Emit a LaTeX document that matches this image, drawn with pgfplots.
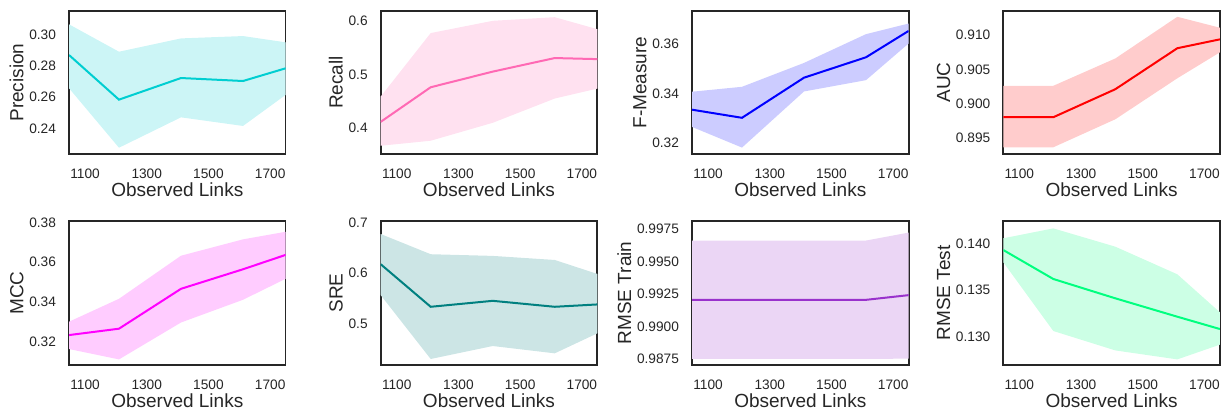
\documentclass[border=0pt]{standalone}
\usepackage{fontspec}
\setmainfont{Liberation Sans}
\usepackage{pgfplots}
\usepackage{pgfplotstable}
\pgfplotsset{compat=1.18}
\usepgfplotslibrary{fillbetween}

\definecolor{txt}{HTML}{262626}
\definecolor{cprec}{HTML}{00CED1}
\definecolor{crec}{HTML}{FF69B4}
\definecolor{cfm}{HTML}{0000FF}
\definecolor{cauc}{HTML}{FF0000}
\definecolor{cmcc}{HTML}{FF00FF}
\definecolor{csre}{HTML}{008080}
\definecolor{ctr}{HTML}{9932CC}
\definecolor{cte}{HTML}{00FF7F}

% x = observed links, m = mean, lo/hi = band
\pgfplotstableread{
x m lo hi
1048 0.2868 0.2656 0.3064
1210 0.2583 0.2276 0.2889
1411 0.2721 0.2470 0.2974
1612 0.2702 0.2415 0.2989
1750 0.2783 0.2613 0.2949
}\tPrec
\pgfplotstableread{
x m lo hi
1048 0.4117 0.3670 0.4590
1210 0.4764 0.3764 0.5777
1411 0.5056 0.4099 0.6006
1612 0.5310 0.4553 0.6074
1750 0.5290 0.4739 0.5850
}\tRec
\pgfplotstableread{
x m lo hi
1048 0.3334 0.3264 0.3407
1210 0.3301 0.3180 0.3427
1411 0.3464 0.3408 0.3524
1612 0.3547 0.3454 0.3641
1750 0.3654 0.3603 0.3684
}\tFm
\pgfplotstableread{
x m lo hi
1048 0.8980 0.8936 0.9026
1210 0.8980 0.8936 0.9026
1411 0.9021 0.8977 0.9066
1612 0.9081 0.9037 0.9127
1750 0.9094 0.9075 0.9111
}\tAuc
\pgfplotstableread{
x m lo hi
1048 0.3235 0.3165 0.3302
1210 0.3267 0.3113 0.3417
1411 0.3467 0.3298 0.3633
1612 0.3565 0.3412 0.3715
1750 0.3637 0.3517 0.3753
}\tMcc
\pgfplotstableread{
x m lo hi
1048 0.6176 0.5569 0.6770
1210 0.5340 0.4314 0.6373
1411 0.5457 0.4569 0.6340
1612 0.5340 0.4425 0.6260
1750 0.5386 0.4818 0.5986
}\tSre
\pgfplotstableread{
x m lo hi
1048 0.99206 0.98752 0.99661
1210 0.99206 0.98752 0.99661
1411 0.99206 0.98752 0.99661
1612 0.99206 0.98752 0.99661
1750 0.99242 0.98755 0.99722
}\tTrain
\pgfplotstableread{
x m lo hi
1048 0.13928 0.13797 0.14054
1210 0.13618 0.13061 0.14160
1411 0.13411 0.12853 0.13964
1612 0.13214 0.12757 0.13668
1750 0.13082 0.12915 0.13261
}\tTest

\pgfplotsset{
  panel/.style={
    scale only axis, anchor=south west,
    width=108.3pt,
    xmin=1048, xmax=1750,
    xtick={1100,1300,1500,1700},
    xticklabels={1100,1300,1500,1700},
    major tick length=0pt,
    axis line style={txt, line width=0.9pt},
    tick label style={font=\fontsize{6.85}{8}\selectfont, text=txt},
    label style={font=\fontsize{9.5}{11}\selectfont, text=txt},
    xticklabel style={yshift=-4pt},
    yticklabel style={xshift=-3pt},
    xlabel style={yshift=5pt},
    ylabel style={yshift=-4pt},
    xlabel={Observed Links},
    scaled y ticks=false,
    /pgf/number format/assume math mode=true,
  },
  prec/.style={yticklabel style={/pgf/number format/.cd, fixed, fixed zerofill, precision=#1}},
}

\newcommand\band[2]{%
  \addplot[name path=hi, draw=none, forget plot] table[x=x, y=hi]{#1};
  \addplot[name path=lo, draw=none, forget plot] table[x=x, y=lo]{#1};
  \addplot[#2!20, draw=none] fill between[of=hi and lo];
  \addplot[#2, line width=1pt] table[x=x, y=m]{#1};
}

\begin{document}
\begin{tikzpicture}
% top row
\begin{axis}[panel, at={(34.5pt,128pt)}, height=71.5pt,
  ymin=0.2236, ymax=0.3149, ytick={0.24,0.26,0.28,0.30}, prec=2, ylabel={Precision}]
\band{\tPrec}{cprec}
\end{axis}

\begin{axis}[panel, at={(190.35pt,128pt)}, height=71.5pt,
  ymin=0.3516, ymax=0.619, ytick={0.4,0.5,0.6}, prec=1, ylabel={Recall}]
\band{\tRec}{crec}
\end{axis}

\begin{axis}[panel, at={(346pt,128pt)}, height=71.5pt,
  ymin=0.3154, ymax=0.3735, ytick={0.32,0.34,0.36}, prec=2, ylabel={F-Measure}]
\band{\tFm}{cfm}
\end{axis}

\begin{axis}[panel, at={(501.65pt,128pt)}, height=71.5pt,
  ymin=0.89262, ymax=0.91355, ytick={0.895,0.900,0.905,0.910}, prec=3, ylabel={AUC}]
\band{\tAuc}{cauc}
\end{axis}

% bottom row
\begin{axis}[panel, at={(34.5pt,22.5pt)}, height=72pt,
  ymin=0.3085, ymax=0.3807, ytick={0.32,0.34,0.36,0.38}, prec=2, ylabel={MCC}]
\band{\tMcc}{cmcc}
\end{axis}

\begin{axis}[panel, at={(190.35pt,22.5pt)}, height=72pt,
  ymin=0.4196, ymax=0.7026, ytick={0.5,0.6,0.7}, prec=1, ylabel={SRE}]
\band{\tSre}{csre}
\end{axis}

\begin{axis}[panel, at={(346pt,22.5pt)}, height=72pt,
  ymin=0.98706, ymax=0.99811, ytick={0.9875,0.9900,0.9925,0.9950,0.9975}, prec=4, ylabel={RMSE Train}]
\band{\tTrain}{ctr}
\end{axis}

\begin{axis}[panel, at={(501.65pt,22.5pt)}, height=72pt,
  ymin=0.12697, ymax=0.14239, ytick={0.130,0.135,0.140}, prec=3, ylabel={RMSE Test}]
\band{\tTest}{cte}
\end{axis}

\pgfresetboundingbox
\path (0,0) rectangle (614.5pt,205pt);
\end{tikzpicture}
\end{document}
